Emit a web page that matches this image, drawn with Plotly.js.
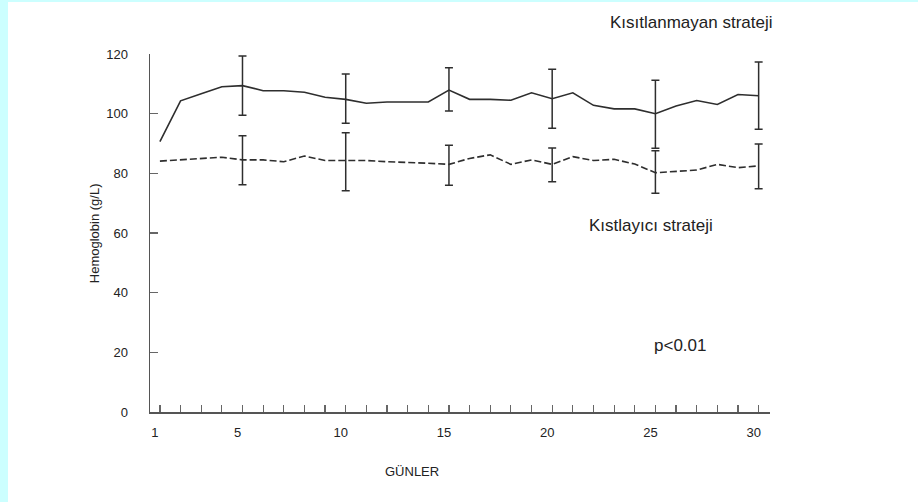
<!DOCTYPE html>
<html>
<head>
<meta charset="utf-8">
<script src="https://cdn.plot.ly/plotly-3.0.1.min.js"></script>
<style>
  html, body { margin: 0; padding: 0; width: 918px; height: 502px; overflow: hidden; background: #ccffff; }
  #chart { position: absolute; left: 8px; top: 2px; width: 910px; height: 500px; }
</style>
</head>
<body>
<div id="chart"></div>
<script>
// ---- data ----
const days = [1,2,3,4,5,6,7,8,9,10,11,12,13,14,15,16,17,18,19,20,21,22,23,24,25,26,27,28,29,30];
const unrestricted = [90.6,104.3,106.7,109.0,109.4,107.7,107.7,107.2,105.5,104.8,103.5,103.9,103.9,103.9,107.9,104.8,104.8,104.5,107.0,105.0,107.0,102.8,101.6,101.6,100.0,102.6,104.4,103.1,106.4,106.0];
const restrictive  = [84.1,84.6,85.0,85.4,84.5,84.5,83.9,85.8,84.3,84.3,84.3,83.9,83.7,83.4,83.0,85.0,86.2,83.0,84.5,83.0,85.6,84.3,84.7,83.1,80.2,80.6,81.1,83.0,81.9,82.5];
const errDays = [5,10,15,20,25,30];
const unrestrictedUpper = [119.3,113.3,115.4,114.9,111.2,117.3];
const unrestrictedLower = [99.5,96.8,100.9,95.1,88.4,94.8];
const restrictiveUpper  = [92.6,93.6,89.4,88.5,87.6,89.8];
const restrictiveLower  = [76.2,74.2,76.0,77.2,73.3,74.8];
const xTickLabels = ["1","5","10","15","20","25","30"];
const xTickValues = [1,5,10,15,20,25,30];
const yTickValues = [0,20,40,60,80,100,120];

const ink = '#2e2e2e';
const font = 'Liberation Sans, Arial, sans-serif';

function meanAt(series, d) { return series[days.indexOf(d)]; }
const uMeans = errDays.map(d => meanAt(unrestricted, d));
const rMeans = errDays.map(d => meanAt(restrictive, d));

const tickText = days.map(d => { const i = xTickValues.indexOf(d); return i >= 0 ? xTickLabels[i] : ''; });

const traces = [
  { x: days, y: unrestricted, mode: 'lines', line: {color: ink, width: 1.6}, hoverinfo: 'skip' },
  { x: days, y: restrictive, mode: 'lines', line: {color: ink, width: 1.6, dash: '7px,3px'}, hoverinfo: 'skip' },
  { x: errDays, y: uMeans, mode: 'markers', marker: {size: 1, color: 'rgba(0,0,0,0)'},
    error_y: {type: 'data', symmetric: false,
      array: unrestrictedUpper.map((v,i) => v - uMeans[i]),
      arrayminus: uMeans.map((m,i) => m - unrestrictedLower[i]),
      color: ink, thickness: 1.5, width: 4}, hoverinfo: 'skip' },
  { x: errDays, y: rMeans, mode: 'markers', marker: {size: 1, color: 'rgba(0,0,0,0)'},
    error_y: {type: 'data', symmetric: false,
      array: restrictiveUpper.map((v,i) => v - rMeans[i]),
      arrayminus: rMeans.map((m,i) => m - restrictiveLower[i]),
      color: ink, thickness: 1.5, width: 4}, hoverinfo: 'skip' }
];

const layout = {
  width: 910, height: 500,
  margin: {l: 142, r: 148, t: 52, b: 90},
  paper_bgcolor: '#ffffff', plot_bgcolor: '#ffffff',
  showlegend: false,
  font: {family: font, size: 13, color: '#222'},
  xaxis: {
    range: [0.52, 30.55], showgrid: false, zeroline: false,
    showline: true, linecolor: '#555', linewidth: 1.5,
    tickmode: 'array', tickvals: days, ticktext: tickText,
    ticks: 'inside', ticklen: 7, tickwidth: 1.2, tickcolor: '#666',
    ticklabelstandoff: 8, ticklabelshift: -5,
    tickfont: {family: font, size: 13, color: '#222'}
  },
  yaxis: {
    range: [0, 120], showgrid: false, zeroline: false,
    showline: true, linecolor: '#555', linewidth: 1.5,
    tickmode: 'array', tickvals: yTickValues,
    ticks: 'inside', ticklen: 8, tickwidth: 1.2, tickcolor: '#666',
    ticklabelstandoff: 18,
    tickfont: {family: font, size: 13, color: '#222'}
  },
  annotations: [
    {text: 'Kısıtlanmayan strateji', xref: 'paper', yref: 'paper', x: 0.8726, y: 1.0866,
     xanchor: 'center', yanchor: 'middle', showarrow: false,
     font: {family: font, size: 17, color: '#222'}},
    {text: 'Kıstlayıcı strateji', xref: 'paper', yref: 'paper', x: 0.808, y: 0.5196,
     xanchor: 'center', yanchor: 'middle', showarrow: false,
     font: {family: font, size: 17, color: '#222'}},
    {text: 'p<0.01', xref: 'paper', yref: 'paper', x: 0.855, y: 0.187,
     xanchor: 'center', yanchor: 'middle', showarrow: false,
     font: {family: font, size: 17, color: '#222'}},
    {text: 'GÜNLER', xref: 'paper', yref: 'paper', x: 0.4226, y: -0.165,
     xanchor: 'center', yanchor: 'middle', showarrow: false,
     font: {family: font, size: 13, color: '#222'}},
    {text: 'Hemoglobin (g/L)', xref: 'paper', yref: 'paper', x: -0.09, y: 0.5, textangle: -90,
     xanchor: 'center', yanchor: 'middle', showarrow: false,
     font: {family: font, size: 13, color: '#222'}}
  ]
};

Plotly.newPlot('chart', traces, layout, {displayModeBar: false, staticPlot: true});
</script>
</body>
</html>
